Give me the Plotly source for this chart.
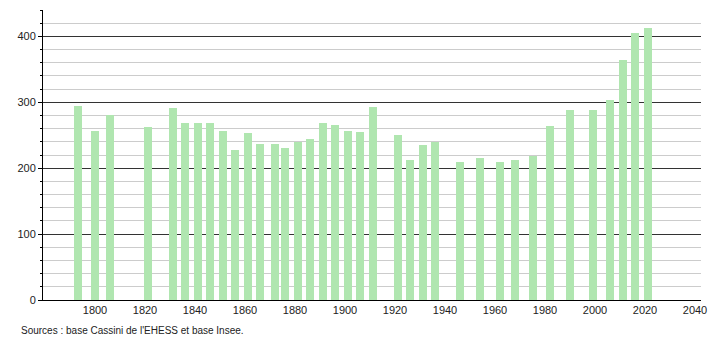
import plotly.graph_objects as go

years = [1793, 1800, 1806, 1821, 1831, 1836, 1841, 1846, 1851, 1856, 1861, 1866,
         1872, 1876, 1881, 1886, 1891, 1896, 1901, 1906, 1911, 1921, 1926, 1931,
         1936, 1946, 1954, 1962, 1968, 1975, 1982, 1990, 1999, 2006, 2011, 2016, 2021]
population = [295, 256, 280, 262, 291, 269, 269, 268, 256, 227, 253, 237,
              236, 230, 239, 244, 269, 265, 256, 255, 293, 251, 213, 235,
              240, 209, 215, 209, 212, 218, 264, 288, 289, 303, 364, 405, 412]
x_ticks = [1800, 1820, 1840, 1860, 1880, 1900, 1920, 1940, 1960, 1980, 2000, 2020, 2040]
source_text = "Sources : base Cassini de l'EHESS et base Insee."

fig = go.Figure()
fig.add_trace(go.Bar(
    x=years, y=population, width=3.2,
    marker=dict(color="#b0e6b0", line=dict(width=0)),
    hoverinfo="x+y",
))

fig.update_layout(
    width=710, height=340,
    margin=dict(l=43, r=9, t=10, b=40, autoexpand=False),
    paper_bgcolor="white", plot_bgcolor="white",
    font=dict(family="Liberation Sans, Arial, sans-serif", size=11, color="#222"),
    showlegend=False,
    bargap=0,
    xaxis=dict(
        range=[1779.2, 2042.4],
        tickvals=x_ticks, ticktext=[str(t) for t in x_ticks],
        showgrid=False, ticks="", zeroline=False, automargin=False,
        showline=True, linecolor="#000", linewidth=1,
        tickfont=dict(size=11, color="#222"),
        fixedrange=True,
    ),
    yaxis=dict(
        range=[0, 440],
        tickvals=[0, 100, 200, 300, 400],
        showgrid=True, gridcolor="#333", gridwidth=1,
        zeroline=False, automargin=False,
        showline=True, linecolor="#000", linewidth=1,
        ticks="outside", ticklen=4, tickcolor="#000",
        tickfont=dict(size=11, color="#222"),
        minor=dict(dtick=20, tick0=0, showgrid=True, gridcolor="#cccccc",
                   gridwidth=1, ticks="outside", ticklen=2, tickcolor="#000"),
        fixedrange=True,
    ),
    annotations=[dict(
        text=source_text, xref="paper", yref="paper",
        x=-0.037, y=-0.078, xanchor="left", yanchor="top",
        showarrow=False, font=dict(size=10, color="#222"),
    )],
)

fig.write_html("out.html")
